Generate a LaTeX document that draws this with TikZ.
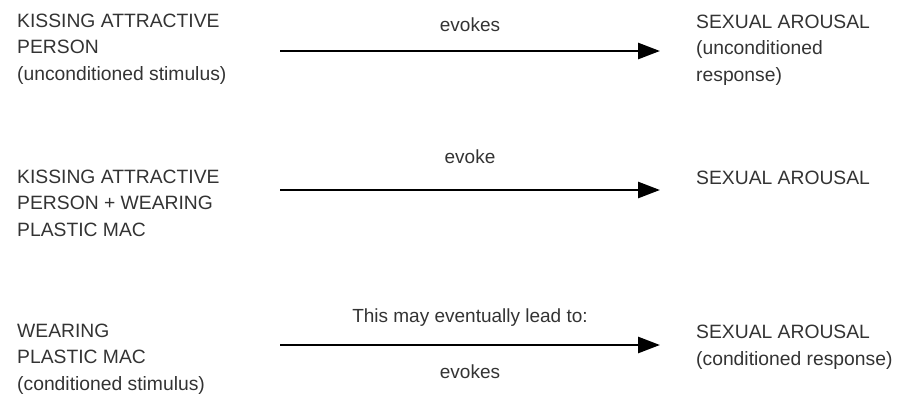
\documentclass[tikz,border=0pt]{standalone}
\usepackage{fontspec}
\setmainfont{Liberation Sans}
\usetikzlibrary{arrows.meta, positioning}

\begin{document}
\begin{tikzpicture}[
    x=1pt, y=-1pt,
    term/.style={inner sep=0pt, anchor=base west, align=left, text=black!80,
        font=\fontsize{19.3}{26.5}\selectfont},
    label/.style={inner sep=0pt, anchor=base, text=black!80,
        font=\fontsize{19}{26.5}\selectfont},
    arrow/.style={line width=2.8pt, -{Triangle[length=22pt, width=16pt]}}
]
    \useasboundingbox (0,0) rectangle (906,394);

    % stimulus side (anchored at the last line)
    \node[term] (kiss) at (17,80) {KISSING ATTRACTIVE\\PERSON\\(unconditioned stimulus)};
    \node[term] (pair) at (17,236) {KISSING ATTRACTIVE\\PERSON + WEARING\\PLASTIC MAC};
    \node[term] (mac) at (17,390) {WEARING\\PLASTIC MAC\\(conditioned stimulus)};

    % response side
    \node[term] (ur) at (696,81) {SEXUAL AROUSAL\\(unconditioned\\response)};
    \node[term] (arousal) at (696,184) {SEXUAL AROUSAL};
    \node[term] (cr) at (696,365) {SEXUAL AROUSAL\\(conditioned response)};

    % arrow ends
    \coordinate (s1) at (280,51);  \coordinate (e1) at (660,51);
    \coordinate (s2) at (280,190); \coordinate (e2) at (660,190);
    \coordinate (s3) at (280,345); \coordinate (e3) at (660,345);

    \draw[arrow] (s1) -- node[label, yshift=20pt] (ev1) {evokes} (e1);
    \draw[arrow] (s2) -- node[label, yshift=27pt] (ev2) {evoke} (e2);
    \draw[arrow] (s3) -- node[label, yshift=23pt] (lead) {This may eventually lead to:}
        node[label, yshift=-33pt] (ev3) {evokes} (e3);
\end{tikzpicture}
\end{document}
